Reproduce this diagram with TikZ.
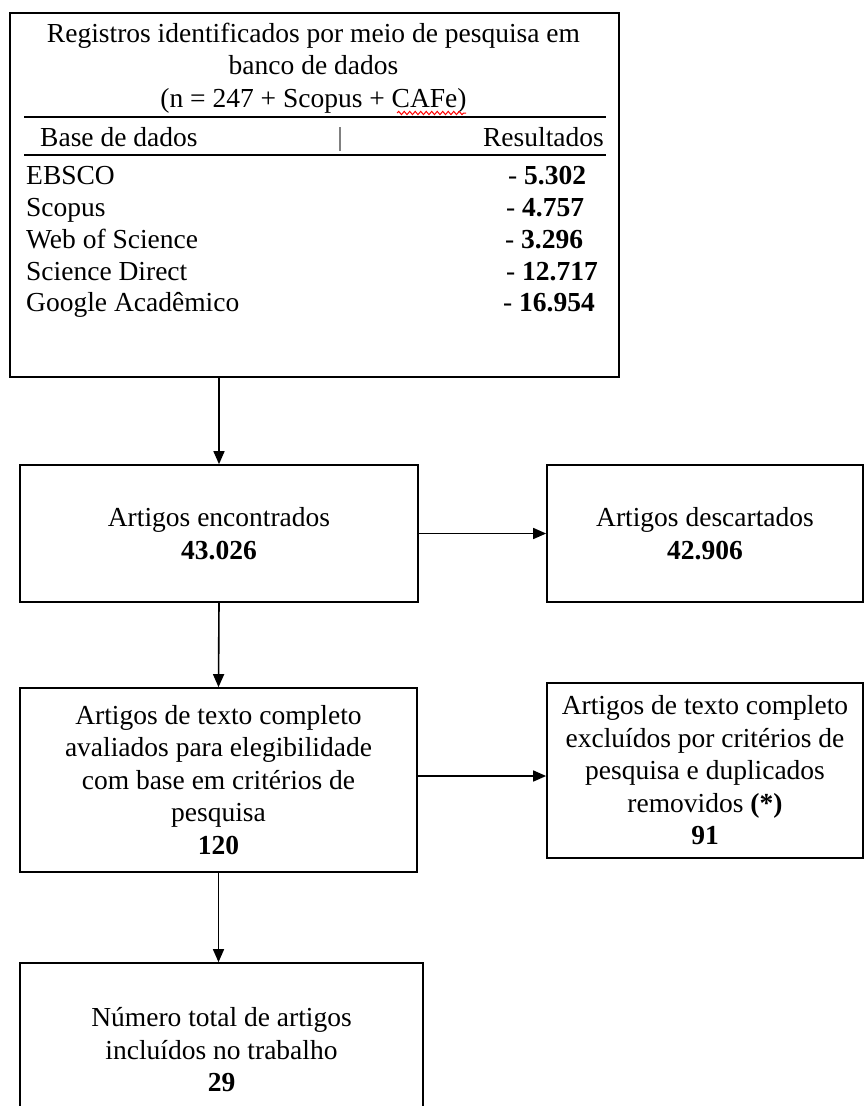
\documentclass[tikz,border=0pt]{standalone}
\usepackage{fontspec}
\setmainfont{Liberation Serif}
\usetikzlibrary{arrows.meta,decorations.pathmorphing}
\begin{document}
\begin{tikzpicture}[x=1pt,y=-1pt,
  box/.style={draw, line width=1.7pt, align=center, inner sep=0pt, font=\fontsize{27.5}{32.5}\selectfont},
  txt/.style={inner sep=0pt, font=\fontsize{27.5}{32.5}\selectfont},
  rule/.style={line width=1.9pt},
  arr/.style={line width=1.6pt, -{Triangle[length=13pt,width=11pt]}}]
\useasboundingbox (0,0) rectangle (864,1106);
\clip (0,0) rectangle (864,1106);
% top box
\node[box, minimum width=609pt, minimum height=364pt, anchor=north west] (db) at (9,12) {};
\node[txt, align=center] (head) at (313.5,68) {Registros identificados por meio de pesquisa em\\banco de dados\\(n = 247 + Scopus + CAFe)};
\draw[red, line width=1pt, decorate, decoration={snake, amplitude=1.6pt, segment length=5.5pt}] (397,113) -- (466,113);
\draw[rule] (24,117) -- (606,117);
\draw[rule] (24,155) -- (606,155);
\draw[gray, line width=1.2pt] (340,127) -- (340,151);
\node[txt, anchor=base west] (colA) at (40,146) {Base de dados};
\node[txt, anchor=base east] (colB) at (604,146) {Resultados};
\node[txt, anchor=base west] (n1) at (26,184) {EBSCO};
\node[txt, anchor=base west] (n2) at (26,216) {Scopus};
\node[txt, anchor=base west] (n3) at (26,248) {Web of Science};
\node[txt, anchor=base west] (n4) at (26,280) {Science Direct};
\node[txt, anchor=base west] (n5) at (26,311) {Google Acadêmico};
\node[txt, anchor=base west] (v1) at (508,184) {- \textbf{5.302}};
\node[txt, anchor=base west] (v2) at (506,216) {- \textbf{4.757}};
\node[txt, anchor=base west] (v3) at (505,248) {- \textbf{3.296}};
\node[txt, anchor=base west] (v4) at (506,280) {- \textbf{12.717}};
\node[txt, anchor=base west] (v5) at (503,311) {- \textbf{16.954}};
% boxes
\node[box, minimum width=398pt, minimum height=137pt] (enc) at (219,533.5) {Artigos encontrados\\\textbf{43.026}};
\node[box, minimum width=316pt, minimum height=137pt] (desc) at (705,533.5) {Artigos descartados\\\textbf{42.906}};
\node[box, minimum width=397pt, minimum height=184pt] (elig) at (218.5,780) {Artigos de texto completo\\avaliados para elegibilidade\\com base em critérios de\\pesquisa\\\textbf{120}};
\node[box, minimum width=316pt, minimum height=175pt] (excl) at (705,770.5) {Artigos de texto completo\\excluídos por critérios de\\pesquisa e duplicados\\removidos \textbf{(*)}\\\textbf{91}};
\node[box, minimum width=403pt, minimum height=174pt] (total) at (221.5,1050) {Número total de artigos\\incluídos no trabalho\\\textbf{29}};
% connectors
\draw[arr] (db.south -| enc.north) -- (enc.north);
\draw[arr] (enc.east) -- (desc.west);
\draw[arr] (enc.south) -- (elig.north);
\draw[arr] ([yshift=4pt]elig.east) -- ([yshift=4pt]elig.east -| excl.west);
\draw[arr] (elig.south) -- (elig.south |- total.north);
\end{tikzpicture}
\end{document}
